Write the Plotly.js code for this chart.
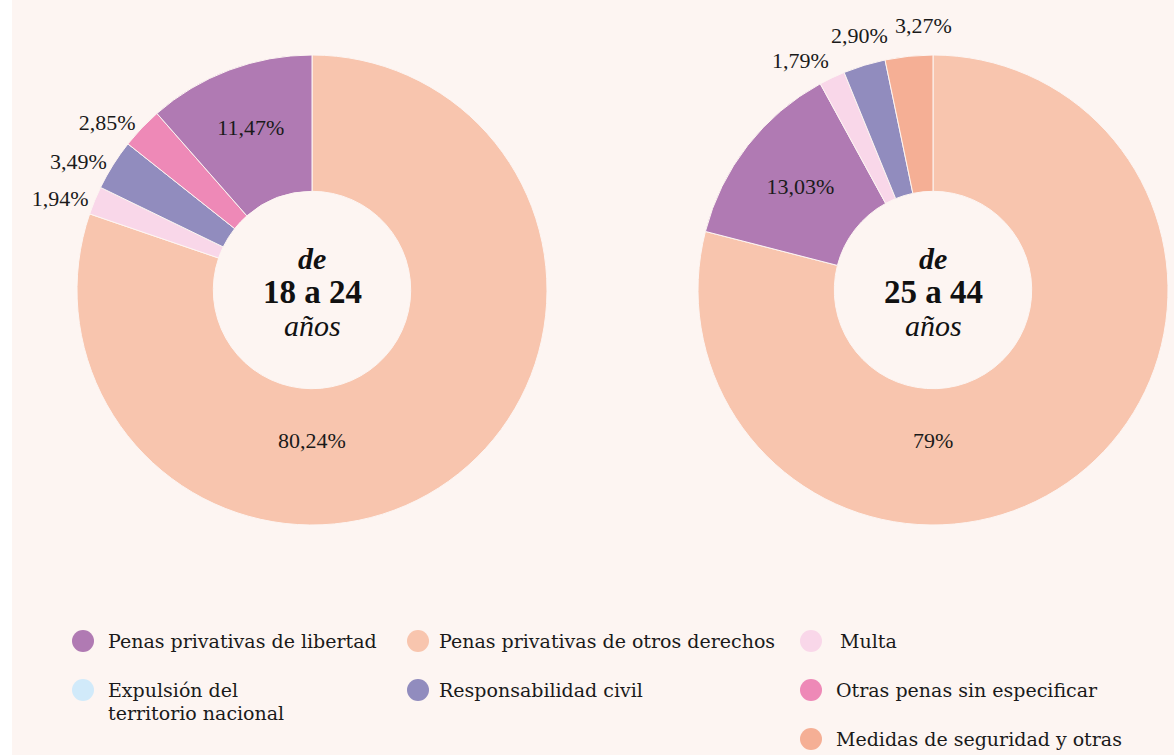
<!DOCTYPE html>
<html>
<head>
<meta charset="utf-8">
<script src="https://cdn.plot.ly/plotly-3.0.1.min.js"></script>
<style>html,body{margin:0;padding:0;background:#fff;} .js-plotly-plot path.textline{display:none !important;}</style>
</head>
<body>
<div id="chart" style="width:1174px;height:755px"></div>
<script>
// ---- data ----
const categoriesLeft = ['Penas privativas de otros derechos', 'Multa', 'Responsabilidad civil', 'Otras penas sin especificar', 'Penas privativas de libertad'];
const valuesLeft = [80.24, 1.94, 3.49, 2.85, 11.47];
const categoriesRight = ['Penas privativas de otros derechos', 'Penas privativas de libertad', 'Multa', 'Responsabilidad civil', 'Medidas de seguridad y otras'];
const valuesRight = [79, 13.03, 1.79, 2.90, 3.27];
const titleLeft = ['de', '18 a 24', 'años'];
const titleRight = ['de', '25 a 44', 'años'];
const legendLabels = ['Penas privativas de libertad', 'Penas privativas de otros derechos', 'Multa',
  'Expulsión del<br>territorio nacional', 'Responsabilidad civil', 'Otras penas sin especificar', 'Medidas de seguridad y otras'];

// ---- styles ----
const colorMap = {
  'Penas privativas de libertad': '#b07ab3',
  'Penas privativas de otros derechos': '#f8c5ae',
  'Multa': '#f9d7e9',
  'Expulsión del territorio nacional': '#d1eafa',
  'Responsabilidad civil': '#918cbe',
  'Otras penas sin especificar': '#ee89b7',
  'Medidas de seguridad y otras': '#f5af95'
};
const BG = '#fdf5f2';
const W = 1174, H = 755;
const px = x => x / W;
const py = y => 1 - y / H;
const numFont = 'Liberation Serif, Times New Roman, serif';
const legFont = 'DejaVu Serif, serif';
const LABEL_SIZE = 22;

function fmt(v) {
  return (Math.round(v) === v ? String(v) : v.toFixed(2).replace('.', ',')) + '%';
}
function maxIndex(arr) { return arr.indexOf(Math.max.apply(null, arr)); }

// nativeOutside: let plotly place the small-slice labels; otherwise place them radially
function pieTrace(cats, vals, domX, nativeOutside) {
  const big = maxIndex(vals);
  const isSmall = v => v < 8;
  return {
    type: 'pie',
    labels: cats,
    values: vals,
    sort: false,
    direction: 'clockwise',
    rotation: 0,
    hole: 0.42,
    domain: {x: domX, y: [py(525), py(55)]},
    marker: {colors: cats.map(c => colorMap[c]), line: {color: BG, width: 1}},
    text: vals.map((v, i) => (i === big || (isSmall(v) && !nativeOutside)) ? '' : fmt(v)),
    textinfo: 'text',
    textposition: vals.map((v, i) => (isSmall(v) && nativeOutside) ? 'outside' : 'inside'),
    insidetextorientation: 'horizontal',
    textfont: {family: numFont, size: LABEL_SIZE, color: '#1a1a1a'},
    insidetextfont: {family: numFont, size: LABEL_SIZE, color: '#1a1a1a'},
    outsidetextfont: {family: numFont, size: LABEL_SIZE, color: '#1a1a1a'},
    showlegend: false,
    hoverinfo: 'label+percent'
  };
}

const domLeft = [px(77), px(547)];
const domRight = [px(698), px(1168)];
const data = [pieTrace(categoriesLeft, valuesLeft, domLeft, true), pieTrace(categoriesRight, valuesRight, domRight, false)];

const annotations = [];
const shapes = [
  {type: 'rect', xref: 'paper', yref: 'paper', x0: 0, x1: px(12), y0: 0, y1: 1, fillcolor: '#ffffff', line: {width: 0}, layer: 'below'}
];

const pies = [
  {dom: domLeft, t: titleLeft, vals: valuesLeft, native: true},
  {dom: domRight, t: titleRight, vals: valuesRight, native: false}
];
pies.forEach(p => {
  const cx = (p.dom[0] + p.dom[1]) / 2;
  const cxPx = cx * W, cyPx = 290, R = 235;
  annotations.push({xref: 'paper', yref: 'paper', x: cx, y: py(258), text: '<b><i>' + p.t[0] + '</i></b>', showarrow: false,
    xanchor: 'center', yanchor: 'middle', font: {family: numFont, size: 30, color: '#111'}});
  annotations.push({xref: 'paper', yref: 'paper', x: cx, y: py(292), text: '<b>' + p.t[1] + '</b>', showarrow: false,
    xanchor: 'center', yanchor: 'middle', font: {family: numFont, size: 33, color: '#111'}});
  annotations.push({xref: 'paper', yref: 'paper', x: cx, y: py(325), text: '<i>' + p.t[2] + '</i>', showarrow: false,
    xanchor: 'center', yanchor: 'middle', font: {family: numFont, size: 30, color: '#111'}});
  // largest slice label, centred below the hole
  annotations.push({xref: 'paper', yref: 'paper', x: cx, y: py(440), text: fmt(p.vals[maxIndex(p.vals)]), showarrow: false,
    xanchor: 'center', yanchor: 'middle', font: {family: numFont, size: LABEL_SIZE, color: '#1a1a1a'}});
  // small slice labels placed radially at the slice's mid-angle, spread apart when crowded
  if (!p.native) {
    const total = p.vals.reduce((a, b) => a + b, 0);
    let cum = 0;
    const items = [];
    p.vals.forEach(v => {
      const midDeg = (cum + v / 2) / total * 360;
      cum += v;
      if (v < 8) items.push({v: v, a: midDeg});
    });
    const minSep = 14;
    let crowded = false;
    for (let i = 1; i < items.length; i++) if (items[i].a - items[i - 1].a < minSep) crowded = true;
    if (crowded) {
      const mean = items.reduce((s, it) => s + it.a, 0) / items.length;
      items.forEach((it, i) => { it.a = mean + (i - (items.length - 1) / 2) * minSep; });
    }
    const rr = R + 30;
    items.forEach(it => {
      const ang = it.a * Math.PI / 180;
      annotations.push({xref: 'paper', yref: 'paper', x: px(cxPx + rr * Math.sin(ang)), y: py(cyPx - rr * Math.cos(ang)),
        text: fmt(it.v), showarrow: false, xanchor: 'center', yanchor: 'middle',
        font: {family: numFont, size: LABEL_SIZE, color: '#1a1a1a'}});
    });
  }
});

// manual legend (3 columns)
const colCircleX = [83, 418, 811];
const colTextX = [106, 437, 834];
const rowY = [641, 690, 739];
const slots = [[0,0],[1,0],[2,0],[0,1],[1,1],[2,1],[2,2]];
legendLabels.forEach((lab, i) => {
  const [c, r] = slots[i];
  const key = lab.replace('<br>', ' ');
  const cxp = colCircleX[c], cyp = rowY[r], rad = 11;
  shapes.push({type: 'circle', xref: 'paper', yref: 'paper', x0: px(cxp - rad), x1: px(cxp + rad), y0: py(cyp + rad), y1: py(cyp - rad),
    fillcolor: colorMap[key], line: {width: 0}});
  const lines = lab.split('<br>');
  lines.forEach((ln, k) => {
    annotations.push({xref: 'paper', yref: 'paper', x: px(colTextX[c] + (key === 'Multa' ? 4 : 0)), y: py(cyp + k * 23), text: ln, showarrow: false,
      xanchor: 'left', yanchor: 'middle', align: 'left', font: {family: legFont, size: 19, color: '#1a1a1a'}});
  });
});

const layout = {
  width: W, height: H,
  margin: {l: 0, r: 0, t: 0, b: 0},
  paper_bgcolor: BG,
  plot_bgcolor: BG,
  showlegend: false,
  separators: ',.',
  annotations: annotations,
  shapes: shapes
};

Plotly.newPlot('chart', data, layout, {displayModeBar: false, responsive: false});
</script>
</body>
</html>
